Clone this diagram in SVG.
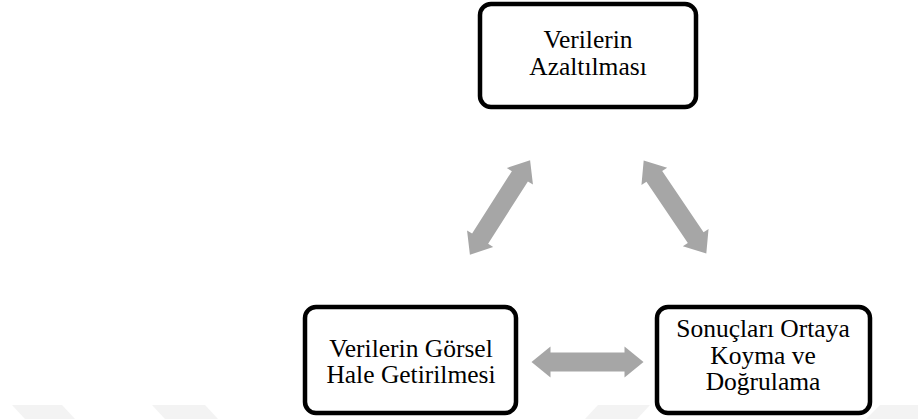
<svg xmlns="http://www.w3.org/2000/svg" width="918" height="419" viewBox="0 0 918 419">
<style>
.box{fill:#ffffff;stroke:#000000;stroke-width:4.5}
text{font-family:'Liberation Serif','DejaVu Serif',serif;font-size:25.5px;fill:#000000;text-anchor:middle}
.arr{fill:#a6a6a6}
.wm{fill:#f3f3f3}
</style>
<defs>
<polygon id="dblarrow" points="-56,0 -37,-15.5 -37,-9.5 37,-9.5 37,-15.5 56,0 37,15.5 37,9.5 -37,9.5 -37,15.5"/>
</defs>
<g id="watermark">
<polygon class="wm" points="12,405 62,405 75,419 25,419"/>
<polygon class="wm" points="152,405 205,405 218,419 165,419"/>
<polygon class="wm" points="585,419 598,405 650,405 637,419"/>
<polygon class="wm" points="880,405 918,405 918,419 866,419"/>
</g>
<g id="connectors">
<use href="#dblarrow" class="arr" transform="translate(500,207.5) rotate(-57.5)"/>
<use href="#dblarrow" class="arr" transform="translate(675,207) rotate(56)"/>
<use href="#dblarrow" class="arr" transform="translate(587.5,362)"/>
</g>
<g id="node-top">
<rect class="box" x="480" y="4" width="216" height="103" rx="11"/>
<text x="588" y="48">Verilerin</text>
<text x="588" y="75">Azaltılması</text>
</g>
<g id="node-left">
<rect class="box" x="305" y="307" width="211" height="106" rx="11"/>
<text x="411" y="356.5">Verilerin Görsel</text>
<text x="411" y="383">Hale Getirilmesi</text>
</g>
<g id="node-right">
<rect class="box" x="657" y="307" width="213" height="106" rx="11"/>
<text x="763" y="337">Sonuçları Ortaya</text>
<text x="763" y="363.5">Koyma ve</text>
<text x="763" y="390">Doğrulama</text>
</g>
</svg>
